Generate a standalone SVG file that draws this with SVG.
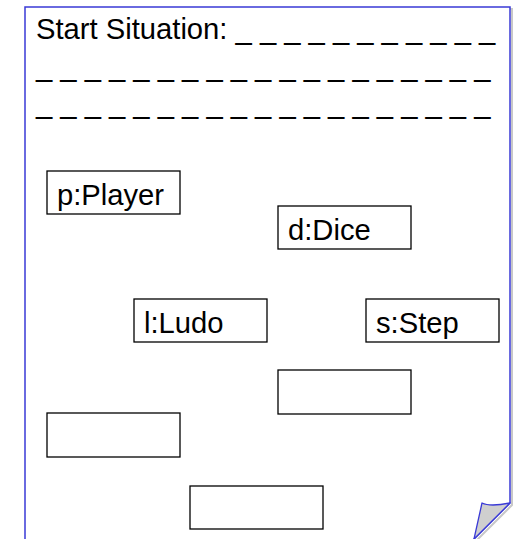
<svg xmlns="http://www.w3.org/2000/svg" width="518" height="539" viewBox="0 0 518 539">
<style>
text{font-family:"Liberation Sans",Arial,sans-serif;font-size:29.2px;fill:#000}
.box{fill:#fff;stroke:#000;stroke-width:1.3}
.page{fill:#fff;stroke:#3a3ad6;stroke-width:1.5}
</style>
<g id="page">
<path d="M27,548 V9 H512 V505 L475,542" fill="none" stroke="#c8c8c8" stroke-width="2"/>
<path class="page" d="M25,548 V7 H510 V503 L474,539 L474,548 Z"/>
<path d="M482,503 Q490,507 510,503 L474,539 Z" fill="#cfcfcf" stroke="#3a3ad6" stroke-width="1.3" stroke-linejoin="round"/>
<text x="36" y="39">Start Situation: _ _ _ _ _ _ _ _ _ _ _</text>
<text x="36" y="76">_ _ _ _ _ _ _ _ _ _ _ _ _ _ _ _ _ _ _</text>
<text x="36" y="113">_ _ _ _ _ _ _ _ _ _ _ _ _ _ _ _ _ _ _</text>
</g>
<g id="player"><rect class="box" x="47" y="171" width="133" height="43"/><text x="57" y="205">p:Player</text></g>
<g id="dice"><rect class="box" x="278" y="206" width="133" height="43"/><text x="288" y="240">d:Dice</text></g>
<g id="ludo"><rect class="box" x="134" y="299" width="133" height="43"/><text x="144" y="333">l:Ludo</text></g>
<g id="step"><rect class="box" x="366" y="299" width="133" height="43"/><text x="376" y="333">s:Step</text></g>
<g id="empty1"><rect class="box" x="278" y="370" width="133" height="44"/></g>
<g id="empty2"><rect class="box" x="47" y="413" width="133" height="44"/></g>
<g id="empty3"><rect class="box" x="190" y="486" width="133" height="43"/></g>
<g id="connectors"/>
</svg>
